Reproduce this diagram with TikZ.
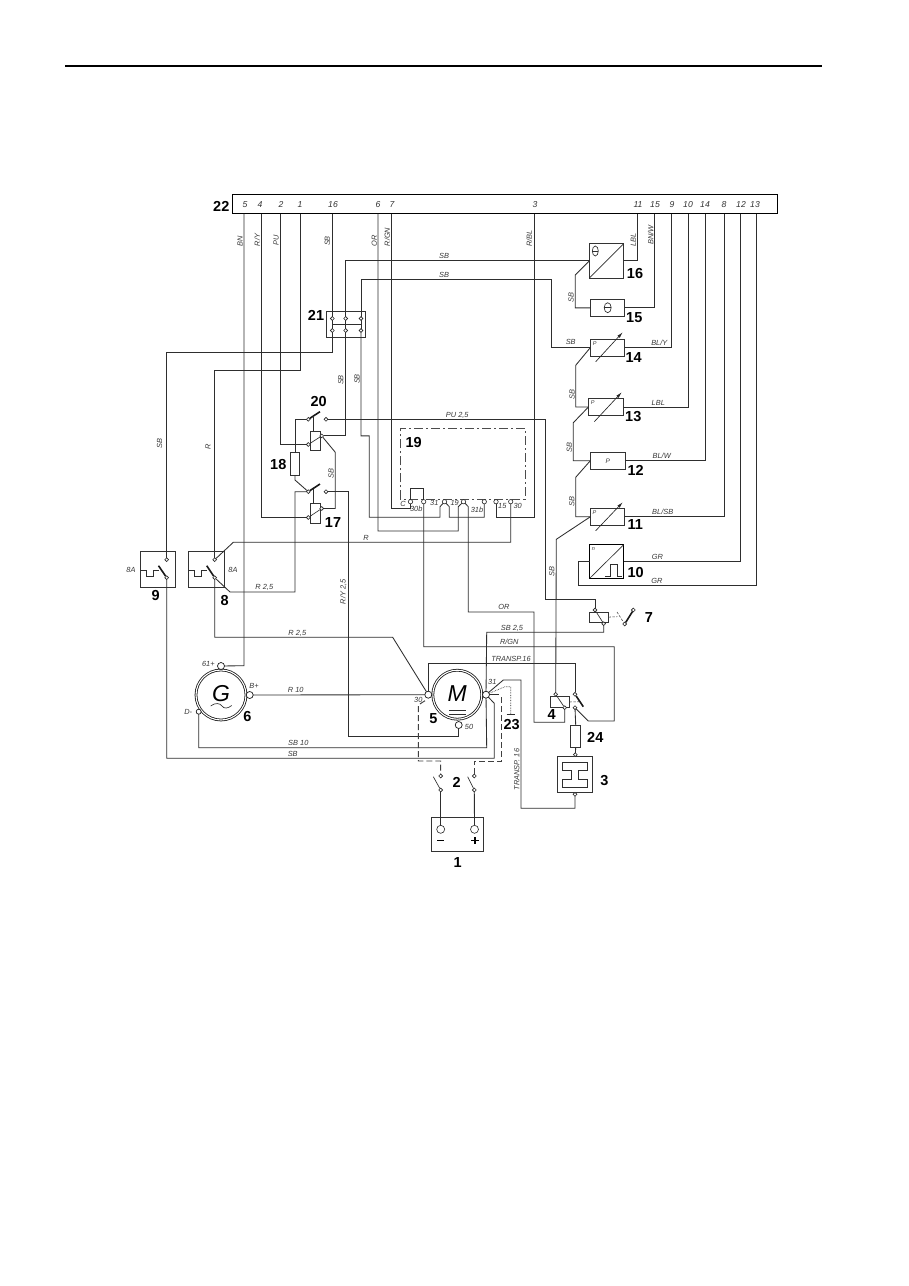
\documentclass[tikz,border=0pt]{standalone}
\usepackage{fontspec}
\setmainfont{Liberation Sans}
\usetikzlibrary{arrows.meta}
\tikzset{
 wire/.style={line width=.85pt,color=black!82,line join=miter},
 sym/.style={line width=.65pt,color=black!82},
 blade/.style={line width=1.6pt,color=black!90},
 dsh/.style={line width=.95pt,color=black!75,dash pattern=on 6pt off 3pt},
 lnk/.style={line width=.55pt,color=black!75,dash pattern=on 2.5pt off 1.5pt},
 bx/.style={draw,line width=.9pt,color=black!80,inner sep=0pt,outer sep=0pt},
 ct/.style={circle,draw=black!85,fill=white,line width=.6pt,inner sep=0pt,outer sep=0pt,minimum size=3.8pt},
 tm/.style={circle,draw=black!90,fill=white,line width=.7pt,inner sep=0pt,outer sep=0pt,minimum size=7pt},
 lb/.style={font=\fontsize{7.4}{8}\selectfont\itshape,text=black!78,inner sep=0pt},
 lv/.style={lb,rotate=90},
 tn/.style={font=\fontsize{8.6}{9}\selectfont\itshape,text=black!80,inner sep=0pt,anchor=base},
 num/.style={font=\fontsize{14.5}{15}\selectfont\bfseries,text=black,inner sep=0pt},
 var/.style={line width=.65pt,color=black!85,-{Latex[length=6pt,width=3.2pt]}},
}
\begin{document}
\begin{tikzpicture}[x=1pt,y=-1pt]
\useasboundingbox (0,0) rectangle (909,1286);
\fill[white] (0,0) rectangle (909,1286);
\coordinate (ruleL) at (65,66); \coordinate (ruleR) at (822,66);
\draw[line width=1.3pt] (ruleL) -- (ruleR);

% connector block 22
\node[bx,line width=1pt,color=black,minimum width=545pt,minimum height=19pt] (b22) at (504.5,204) {};
\foreach \n/\t/\x in {a/5/245,b/4/260,c/2/281,d/1/300,e/16/333,f/6/378,g/7/392,h/3/535,i/11/638,j/15/655,k/9/672,l/10/688,m/14/705,n/8/724,o/12/741,p/13/755}
  \node[tn] (t\n) at (\x,207.2) {\t};
\foreach \n/\x in {5/244,4/261,2/280,1/300,16/332.3,6/378,7/391,3/534.7,11/637.7,15/654.7,9/671.3,10/688.3,14/705.7,8/724,12/740.7,13/756}
  \coordinate (w\n) at (\x,213.5);

% symbol boxes
\node[bx,minimum width=34.4pt,minimum height=34.3pt] (b16) at (606.5,260.85) {};
\node[bx,minimum width=34.4pt,minimum height=17.7pt] (b15) at (607.5,307.85) {};
\node[bx,minimum width=34.4pt,minimum height=17.3pt] (b14) at (607.5,347.65) {};
\node[bx,minimum width=34.7pt,minimum height=17.4pt] (b13) at (605.8,407) {};
\node[bx,minimum width=34.7pt,minimum height=17pt] (b12) at (607.6,460.8) {};
\node[bx,minimum width=34.4pt,minimum height=17pt] (b11) at (607.5,516.8) {};
\node[bx,color=black,minimum width=34pt,minimum height=33.6pt] (b10) at (606.7,561.5) {};
\node[bx,minimum width=35.7pt,minimum height=35.6pt] (b9) at (157.85,569.5) {};
\node[bx,minimum width=35.6pt,minimum height=35.6pt] (b8) at (206.5,569.5) {};
\node[bx,minimum width=39pt,minimum height=25.6pt] (b21) at (346.2,324.5) {};
\node[bx,minimum width=9.3pt,minimum height=22.6pt] (f18) at (295,464) {};
\node[bx,minimum width=10pt,minimum height=22.7pt] (f24) at (575.7,736.3) {};
\node[bx,minimum width=10.7pt,minimum height=19pt] (r20) at (315.3,440.5) {};
\node[bx,minimum width=10.7pt,minimum height=19.6pt] (r17) at (315.3,513.5) {};
\node[bx,minimum width=18.6pt,minimum height=10.6pt] (r4) at (560,702) {};
\node[bx,minimum width=19pt,minimum height=10.3pt] (r7) at (598.8,617.1) {};
\node[bx,minimum width=35pt,minimum height=35.6pt] (b3) at (574.8,774.5) {};
\node[bx,minimum width=52pt,minimum height=34pt] (b1) at (457.3,834.7) {};

% box 21 contacts
\node[ct] (k21a) at (332.3,318.5) {};
\node[ct] (k21b) at (345.7,318.5) {};
\node[ct] (k21c) at (361,318.5) {};
\node[ct] (k21d) at (332.3,330.5) {};
\node[ct] (k21e) at (345.7,330.5) {};
\node[ct] (k21f) at (361,330.5) {};
\draw[sym] (k21a) -- (k21d); \draw[sym] (k21b) -- (k21e); \draw[sym] (k21c) -- (k21f);
\draw[sym] (332.3,324.3) -- (361,324.3);

% relay 20, 17
\node[ct] (k20a) at (308.3,419.3) {};
\node[ct] (k20b) at (326,419.3) {};
\node[ct] (k20c) at (308.3,444.5) {};
\node[ct] (k20d) at (321.7,435.9) {};
\node[ct] (k17a) at (308.3,491.7) {};
\node[ct] (k17b) at (326,491.7) {};
\node[ct] (k17c) at (308.3,517.5) {};
\node[ct] (k17d) at (321.7,508.5) {};
\draw[sym] (k20c) -- (k20d); \draw[sym] (k17c) -- (k17d);
\draw[blade] (k20a) -- (320,411.7); \draw[blade] (k17a) -- (320,484);
\draw[sym] (313.5,416.5) -- (313.5,431); \draw[sym] (313.5,488.5) -- (313.5,503.7);

% contacts of 8, 9
\node[ct] (k9a) at (166.7,559.7) {};
\node[ct] (k9b) at (166.7,577.7) {};
\node[ct] (k8a) at (214.7,559.7) {};
\node[ct] (k8b) at (214.7,577.7) {};
\draw[blade] (k9b) -- (158.5,565.7);
\draw[blade] (k8b) -- (206.7,565.7);
\draw[sym] (140,570) -- (146,570) -- (146,576.7) -- (153.3,576.7) -- (153.3,570) -- (159.3,570);
\draw[sym] (188.7,570) -- (194.3,570) -- (194.3,576.7) -- (201.7,576.7) -- (201.7,570) -- (207.3,570);

% block 19
\coordinate (d19a) at (400,499.3); \coordinate (d19b) at (400,428.3);
\coordinate (d19c) at (525,428.3); \coordinate (d19d) at (525,499.3);
\draw[line width=.85pt,color=black!70,dash pattern=on 9pt off 3pt on 2pt off 3pt] (d19a) -- (d19b) -- (d19c) -- (d19d) -- cycle;
\node[ct,minimum size=4.4pt] (cC) at (410.5,501.7) {};
\node[ct,minimum size=4.4pt] (c30b) at (423.7,501.7) {};
\node[ct,minimum size=4.4pt] (c31) at (444.5,501.7) {};
\node[ct,minimum size=4.4pt] (c19) at (463.5,501.7) {};
\node[ct,minimum size=4.4pt] (c31b) at (484.3,501.7) {};
\node[ct,minimum size=4.4pt] (c15) at (496,501.7) {};
\node[ct,minimum size=4.4pt] (c30) at (510.7,501.7) {};

% machines
\node[circle,draw,line width=.8pt,inner sep=0pt,outer sep=0pt,minimum size=50pt,double,double distance=1.1pt,color=black!90] (G) at (221,695) {};
\node[circle,draw,line width=.8pt,inner sep=0pt,outer sep=0pt,minimum size=49pt,double,double distance=1.1pt,color=black!90] (M) at (457.3,694.7) {};
\node[font=\fontsize{23}{24}\selectfont\itshape,inner sep=0pt] (Gt) at (221,694) {G};
\node[font=\fontsize{23}{24}\selectfont\itshape,inner sep=0pt] (Mt) at (457.3,693.5) {M};
\draw[sym] (210.7,706) .. controls (215,702.5) and (220,703) .. (222,706) .. controls (224,709) and (228,708.5) .. (231.7,705.5);
\draw[sym] (449,710.7) -- (466,710.7); \draw[sym] (449,714) -- (466,714);
\node[tm] (t61) at (221,666) {};
\node[tm] (tBp) at (249.7,695) {};
\node[tm,minimum size=5pt] (tDm) at (198.7,711.7) {};
\node[tm] (t30) at (428.3,694.7) {};
\node[tm] (t31) at (486,694.7) {};
\node[tm] (t50) at (458.7,725) {};

% relays 4, 7, fuse contacts
\node[ct] (k4a) at (555.7,694.3) {};
\node[ct] (k4b) at (564.7,707.7) {};
\node[ct] (k4c) at (575,694.3) {};
\node[ct] (k4d) at (575,707.7) {};
\node[ct] (k3a) at (575.3,754.7) {};
\node[ct] (k3b) at (575,794.3) {};
\draw[sym] (k4a) -- (k4b);
\draw[blade] (k4c) -- (583.3,706.7);
\draw[lnk] (r4.east) -- (579,701.7);
\node[ct] (k7a) at (595,610) {};
\node[ct] (k7b) at (603.7,623.7) {};
\node[ct] (k7c) at (624.7,624) {};
\node[ct] (k7d) at (633.3,610) {};
\draw[sym] (k7a) -- (k7b);
\draw[blade] (k7c) -- (632.5,611.5);
\draw[lnk] (r7.east) -- (617.3,616.7);
\draw[lnk] (617,612) -- (k7c);

% symbols in sensors
\draw[sym] (b16.south west) -- (b16.north east);
\draw[sym] (595.3,251) ellipse (3pt and 5pt); \draw[sym] (592.3,251) -- (598.3,251);
\draw[sym] (607.7,307.7) ellipse (3.5pt and 5pt); \draw[sym] (604.2,307.7) -- (611.2,307.7);
\draw[var] (595.7,361.7) -- (622.7,332.3);
\draw[var] (594.3,421.7) -- (621.7,392.3);
\draw[var] (595.7,530.7) -- (622.7,502.3);
\draw[sym] (b10.south west) -- (b10.north east);
\draw[sym] (605,576) -- (610,576) -- (610,564.7) -- (617.3,564.7) -- (617.3,576) -- (621.7,576);

% horn 3 symbol
\draw[sym,line width=.8pt] (562.3,762.7) -- (587.3,762.7) -- (587.3,770.7) -- (578.3,770.7) -- (578.3,779.3) -- (587.3,779.3) -- (587.3,787.3) -- (562.3,787.3) -- (562.3,779.3) -- (571,779.3) -- (571,770.7) -- (562.3,770.7) -- cycle;

% switches 2, battery
\node[ct] (k2a) at (440.7,776) {};
\node[ct] (k2b) at (440.7,790) {};
\node[ct] (k2c) at (474.3,776) {};
\node[ct] (k2d) at (474.3,790) {};
\draw[sym] (k2b) -- (433.3,776.7);
\draw[sym] (k2d) -- (467.7,776.7);
\node[circle,draw=black!85,line width=.6pt,inner sep=0pt,outer sep=0pt,minimum size=8pt] (bm) at (440.7,829.3) {};
\node[circle,draw=black!85,line width=.6pt,inner sep=0pt,outer sep=0pt,minimum size=8pt] (bp) at (474.5,829.3) {};
\draw[line width=1.3pt] (437,840.7) -- (444.3,840.7);
\draw[line width=1.3pt] (471.3,840.7) -- (478.7,840.7); \draw[line width=1.3pt] (475,837) -- (475,844.4);

% wires from block 22
\draw[wire] (w5) -- (244,665.7) -- (t61);
\draw[wire] (w4) -- (261,517.5) -- (k17c);
\draw[wire] (w2) -- (280,444.5) -- (k20c);
\draw[wire] (w1) -- (300,370) -- (214.7,370) -- (k8a);
\draw[wire] (w16) -- (k21a);
\draw[wire] (k21d) -- (332.3,352) -- (166.7,352) -- (k9a);
\draw[wire] (k21b) -- (345.7,260.85) -- (b16.west);
\draw[wire] (k21c) -- (361,279) -- (551.3,279) -- (551.3,347.65) -- (b14.west);
\draw[wire] (k21e) -- (345.7,435.9) -- (k20d);
\draw[wire] (k21f) -- (361,435.9) -- (369.3,435.9) -- (369.3,517.3) -- (440,517.3) -- (440,506.7) -- (c31);
\draw[wire] (c31) -- (449.3,506.7) -- (449.3,517.3) -- (484.3,517.3) -- (c31b);
\draw[wire] (w6) -- (378,531) -- (458.3,531) -- (458.3,506.7) -- (c19);
\draw[wire] (w7) -- (391,508.5) -- (410.5,508.5) -- (cC);
\draw[wire] (cC) -- (410.5,488.3) -- (423.7,488.3) -- (c30b);
\draw[wire] (c30b) -- (423.7,646.7) -- (614.3,646.7) -- (614.3,721) -- (588.3,721) -- (k4d);
\draw[wire] (c19) -- (468.3,506.7) -- (468.3,612) -- (534,612) -- (534,722.3) -- (564.7,722.3) -- (k4b);
\draw[wire] (w3) -- (534.7,517.3) -- (496,517.3) -- (c15);
\draw[wire] (c30) -- (510.7,542.3) -- (233.3,542.3) -- (k8a);
\draw[wire] (k20b) -- (545.3,419.3) -- (545.3,599.3) -- (595,599.3) -- (k7a);
\draw[wire] (k20a) -- (295,419.3) -- (f18.north);
\draw[wire] (f18.south) -- (295,480) -- (k17a);
\draw[wire] (k20d) -- (335.3,452.3) -- (335.3,508.5) -- (k17d);
\draw[wire] (k17a) -- (295,491.7) -- (295,592) -- (230,592) -- (k8b);
\draw[wire] (k17b) -- (348.3,491.7) -- (348.3,736.7) -- (458.7,736.7) -- (t50);
\draw[wire] (k8b) -- (214.7,637.3) -- (392.7,637.3) -- (t30);
\draw[wire] (k9b) -- (166.7,758.3) -- (494.3,758.3) -- (494.3,703.3) -- (t31);
\draw[wire] (tBp) -- (t30);
\draw[wire] (tDm) -- (198.7,747.7) -- (486.7,747.7) -- (t31);
\draw[wire] (t30) -- (428.3,663.3) -- (575,663.3) -- (k4c);
\draw[wire] (t31) -- (503.3,680) -- (521,680) -- (521,808.3) -- (575,808.3) -- (k3b);
\draw[wire] (t31) -- (486.7,632.3) -- (603.7,632.3) -- (k7b);
\draw[wire] (t31) -- (499,694.7);
\draw[sym,densely dotted] (t31) -- (505,686.7) -- (510.7,686.7) -- (510.7,714);
\draw[sym] (506.5,714) -- (515,714);
\draw[dsh] (425,700.7) -- (418.3,705) -- (418.3,761) -- (440.7,761) -- (k2a);
\draw[dsh] (k2c) -- (474.3,761) -- (501.7,761) -- (501.7,696);
\draw[wire] (k2b) -- (bm);
\draw[wire] (k2d) -- (bp);
\draw[wire] (k4d) -- (f24.north);
\draw[wire] (f24.south) -- (k3a);

% sensor wires
\draw[wire] (b16.east) -- (637.7,260.85) -- (w11);
\draw[wire] (b15.east) -- (654.7,307.85) -- (w15);
\draw[wire] (b14.east) -- (671.3,347.65) -- (w9);
\draw[wire] (b13.east) -- (688.3,407) -- (w10);
\draw[wire] (b12.east) -- (705.7,460.8) -- (w14);
\draw[wire] (b11.east) -- (724,516.8) -- (w8);
\draw[wire] (b10.east) -- (740.7,561.5) -- (w12);
\draw[wire] (b10.west) -- (578.3,561.5) -- (578.3,585.3) -- (756,585.3) -- (w13);
\draw[wire] (b16.west) -- (575.3,275) -- (575.3,307.85) -- (b15.west);
\draw[wire] (b14.west) -- (575.7,365.3) -- (575.7,407) -- (b13.west);
\draw[wire] (b13.west) -- (573.3,422.7) -- (573.3,460.8) -- (b12.west);
\draw[wire] (b12.west) -- (575.7,477.3) -- (575.7,516.8) -- (b11.west);
\draw[wire] (b11.west) -- (556.3,539.3) -- (k4a);

% small labels
\node[lv] (l1) at (240,241) {BN};
\node[lv] (l2) at (257.3,240) {R/Y};
\node[lv] (l3) at (276,240) {PU};
\node[lv] (l4) at (327.3,241) {SB};
\node[lv] (l5) at (374.3,241) {OR};
\node[lv] (l6) at (387.3,237) {R/GN};
\node[lb] (l7) at (444,256) {SB};
\node[lb] (l8) at (444,275) {SB};
\node[lv] (l9) at (340.7,380) {SB};
\node[lv] (l10) at (357,379) {SB};
\node[lv] (l11) at (529.3,238.3) {R/BL};
\node[lv] (l12) at (633.3,240) {LBL};
\node[lv] (l13) at (650.7,235) {BN/W};
\node[lv] (l14) at (571,297.7) {SB};
\node[lb] (l15) at (570.7,342) {SB};
\node[lb] (l16) at (659.3,343) {BL/Y};
\node[lv] (l17) at (572,394.3) {SB};
\node[lb] (l18) at (658.3,403) {LBL};
\node[lv] (l19) at (569.3,447.3) {SB};
\node[lb] (l20) at (661.7,456.3) {BL/W};
\node[lv] (l21) at (571.7,501.7) {SB};
\node[lb] (l22) at (662.7,512.3) {BL/SB};
\node[lb] (l23) at (657.3,557) {GR};
\node[lb] (l24) at (657,580.7) {GR};
\node[lv] (l25) at (551.7,571.7) {SB};
\node[lb] (l26) at (457.3,415) {PU 2,5};
\node[lv] (l27) at (331,473.3) {SB};
\node[lb] (l28) at (366,538) {R};
\node[lb] (l29) at (264.3,587) {R 2,5};
\node[lv] (l30) at (343.3,591.7) {R/Y 2,5};
\node[lb] (l31) at (131,570) {8A};
\node[lb] (l32) at (233,570) {8A};
\node[lb] (l33) at (297.3,633.3) {R 2,5};
\node[lb] (l34) at (208.3,664) {61+};
\node[lb] (l35) at (254,685.7) {B+};
\node[lb] (l36) at (188.3,711.7) {D-};
\node[lb] (l37) at (295.7,690.3) {R 10};
\node[lb] (l38) at (298.3,743) {SB 10};
\node[lb] (l39) at (292.7,753.7) {SB};
\node[lv] (l40) at (159.5,443.5) {SB};
\node[lv] (l41) at (208,447) {R};
\node[lb] (l42) at (504,607) {OR};
\node[lb] (l43) at (512,628) {SB 2,5};
\node[lb] (l44) at (509.3,642) {R/GN};
\node[lb] (l45) at (511,659.3) {TRANSP.16};
\node[lv] (l46) at (516.7,769.5) {TRANSP. 16};
\node[lb] (l47) at (492.3,681.7) {31};
\node[lb] (l48) at (418.3,700) {30};
\node[lb] (l49) at (469,726.7) {50};
\node[lb] (l50) at (403,504) {C};
\node[lb] (l51) at (416.3,509) {30b};
\node[lb] (l52) at (434.3,503.3) {31};
\node[lb] (l53) at (454.7,503.3) {19};
\node[lb] (l54) at (477,510.3) {31b};
\node[lb] (l55) at (502.3,506) {15};
\node[lb] (l56) at (517.7,506) {30};
\node[lb,font=\fontsize{5.5}{6}\selectfont\itshape] (l57) at (594.7,343.3) {P};
\node[lb,font=\fontsize{5.5}{6}\selectfont\itshape] (l58) at (592.8,403) {P};
\node[lb,font=\fontsize{6.5}{7}\selectfont\itshape] (l59) at (607.7,460.8) {P};
\node[lb,font=\fontsize{5.5}{6}\selectfont\itshape] (l60) at (594.5,512.7) {P};
\node[lb,font=\fontsize{5.5}{6}\selectfont\itshape] (l61) at (593.3,549) {n};

% bold numbers
\node[num] (n22) at (221.3,206.7) {22};
\node[num] (n21) at (316,315) {21};
\node[num] (n20) at (318.7,401.7) {20};
\node[num] (n19) at (413.7,442.7) {19};
\node[num] (n18) at (278.3,464.3) {18};
\node[num] (n17) at (333,522.3) {17};
\node[num] (n16) at (635,273.3) {16};
\node[num] (n15) at (634.3,317.7) {15};
\node[num] (n14) at (633.7,357.7) {14};
\node[num] (n13) at (633.3,417) {13};
\node[num] (n12) at (635.7,470) {12};
\node[num] (n11) at (635.3,525) {11};
\node[num] (n10) at (635.7,572.3) {10};
\node[num] (n9) at (155.7,595.7) {9};
\node[num] (n8) at (224.7,600) {8};
\node[num] (n7) at (649,617.3) {7};
\node[num] (n6) at (247.3,716.7) {6};
\node[num] (n5) at (433.3,718.3) {5};
\node[num] (n4) at (551.7,715) {4};
\node[num] (n3) at (604.3,780.7) {3};
\node[num] (n2) at (456.7,782.7) {2};
\node[num] (n1) at (457.7,862.7) {1};
\node[num] (n23) at (511.7,725) {23};
\node[num] (n24) at (595.3,737.7) {24};
\end{tikzpicture}
\end{document}
